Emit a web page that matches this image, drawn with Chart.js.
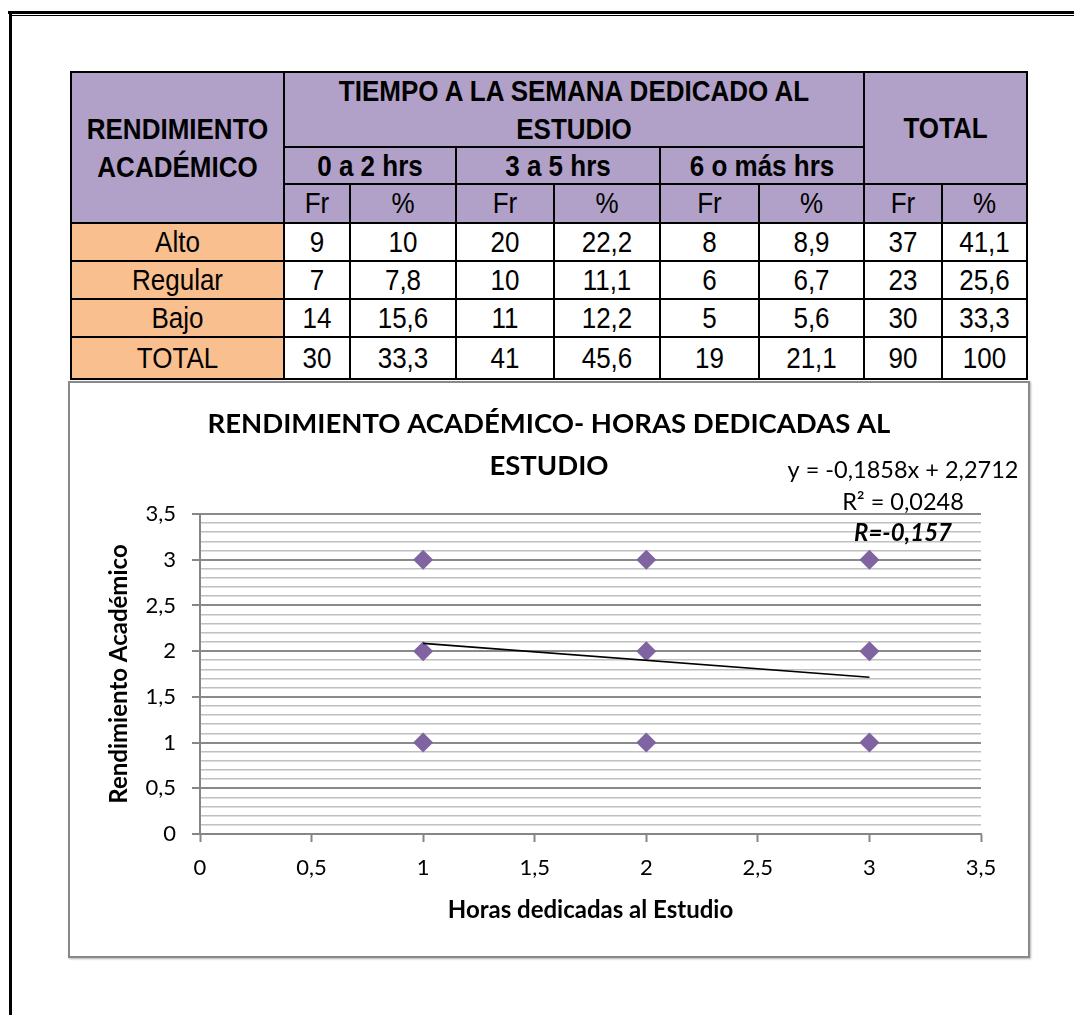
<!DOCTYPE html>
<html lang="es">
<head>
<meta charset="utf-8">
<title>Rendimiento académico - horas dedicadas al estudio</title>
<script src="https://cdn.jsdelivr.net/npm/chart.js@4.4.1/dist/chart.umd.min.js"></script>
<style>
  html, body { margin: 0; padding: 0; background: #fff; }
  body { width: 1074px; height: 1015px; position: relative; overflow: hidden;
         font-family: "Liberation Sans", Arial, sans-serif; }
  .frame-top  { position: absolute; left: 8px;  top: 11px; right: 0; height: 3px; background: #000; }
  .frame-top2 { position: absolute; left: 12px; top: 15px; right: 0; height: 1px; background: #000; }
  .frame-left { position: absolute; left: 9px;  top: 11px; bottom: 0; width: 3px; background: #000; }
  #tabla { position: absolute; left: 70px; top: 71px; width: 956px;
           border-collapse: collapse; table-layout: fixed; }
  #tabla td { border: 2px solid #000; padding: 0; text-align: center; vertical-align: middle;
              font-size: 26px; color: #000; white-space: nowrap; overflow: hidden; }
  #tabla td span { display: inline-block; transform: scaleY(1.12); }
  #tabla .h  { background: #B1A0C7; font-weight: bold; line-height: 34px; }
  #tabla .hs { background: #B1A0C7; }
  #tabla .lab { background: #FABF8F; }
  #tabla .v  { background: #fff; }
  #box { position: absolute; left: 68px; top: 381px; width: 958px; height: 573px;
         border: 2px solid #898989; background: #fff; box-shadow: 1px 1px 2px rgba(0,0,0,0.3); }
  #box canvas { display: block; }
</style>
</head>
<body>
<div class="frame-top"></div>
<div class="frame-top2"></div>
<div class="frame-left"></div>

<table id="tabla">
  <colgroup>
    <col style="width:213px"><col style="width:66px"><col style="width:106px">
    <col style="width:98px"><col style="width:106px"><col style="width:99px">
    <col style="width:105px"><col style="width:78px"><col style="width:85px">
  </colgroup>
  <tbody id="tbody"></tbody>
</table>

<div id="box"><div style="position:relative;width:958px;height:573px"><canvas id="grafico"></canvas></div></div>

<script>
// ---- Tabla de frecuencias ----
const niveles = ['Alto', 'Regular', 'Bajo', 'TOTAL'];
const grupos = ['0 a 2 hrs', '3 a 5 hrs', '6 o más hrs'];
const fr0a2   = [9, 7, 14, 30];
const pct0a2  = [10, 7.8, 15.6, 33.3];
const fr3a5   = [20, 10, 11, 41];
const pct3a5  = [22.2, 11.1, 12.2, 45.6];
const fr6mas  = [8, 6, 5, 19];
const pct6mas = [8.9, 6.7, 5.6, 21.1];
const frTotal  = [37, 23, 30, 90];
const pctTotal = [41.1, 25.6, 33.3, 100];

// ---- Datos del diagrama de dispersión ----
const horas       = [1, 1, 1, 2, 2, 2, 3, 3, 3];
const rendimiento = [3, 2, 1, 3, 2, 1, 3, 2, 1];
const pendiente  = -0.1858;
const intercepto = 2.2712;
const r2 = 0.0248;
const r  = -0.157;
const tendenciaX = [1, 3];
const ejeTicksX = [0, 0.5, 1, 1.5, 2, 2.5, 3, 3.5];

const fmt = n => String(n).replace('.', ',');

// construir la tabla
const tbody = document.getElementById('tbody');
const alturas = [75, 37, 39, 38, 38, 38, 42];
function fila(h) { const tr = document.createElement('tr'); tr.style.height = h + 'px'; tbody.appendChild(tr); return tr; }
function celda(tr, cls, html, cs, rs) {
  const td = document.createElement('td');
  td.className = cls;
  td.innerHTML = '<span>' + html + '</span>';
  if (cs) td.colSpan = cs;
  if (rs) td.rowSpan = rs;
  tr.appendChild(td);
}
let tr = fila(alturas[0]);
celda(tr, 'h', 'RENDIMIENTO<br>ACADÉMICO', 1, 3);
celda(tr, 'h', 'TIEMPO A LA SEMANA DEDICADO AL<br>ESTUDIO', 6);
celda(tr, 'h', 'TOTAL', 2, 2);
tr = fila(alturas[1]);
grupos.forEach(g => celda(tr, 'h', g, 2));
tr = fila(alturas[2]);
for (let i = 0; i < 4; i++) { celda(tr, 'hs', 'Fr'); celda(tr, 'hs', '%'); }
niveles.forEach((n, i) => {
  const f = fila(alturas[3 + i]);
  celda(f, 'lab', n);
  [[fr0a2, pct0a2], [fr3a5, pct3a5], [fr6mas, pct6mas], [frTotal, pctTotal]].forEach(([a, b]) => {
    celda(f, 'v', fmt(a[i]));
    celda(f, 'v', fmt(b[i]));
  });
});

// ---- Gráfico ----
const esMayor = v => Math.abs(v * 2 - Math.round(v * 2)) < 1e-6;
const fuente = 'Lato, "Open Sans", sans-serif';

const etiquetasTendencia = {
  id: 'etiquetasTendencia',
  afterDraw(chart) {
    const { ctx, chartArea } = chart;
    const cx = chartArea.right - 78;
    ctx.save();
    ctx.fillStyle = '#000';
    ctx.textAlign = 'center';
    ctx.textBaseline = 'middle';
    ctx.font = '23.5px ' + fuente;
    ctx.fillText('y = ' + fmt(pendiente) + 'x + ' + fmt(intercepto), cx, chartArea.top - 44);
    ctx.fillText('R² = ' + fmt(r2), cx, chartArea.top - 12);
    ctx.font = 'italic bold 24px ' + fuente;
    ctx.fillText('R=' + fmt(r), cx, chartArea.top + 19);
    ctx.restore();
  }
};

new Chart(document.getElementById('grafico'), {
  type: 'scatter',
  data: {
    datasets: [
      {
        label: 'Lineal',
        type: 'line',
        data: tendenciaX.map(x => ({ x, y: pendiente * x + intercepto })),
        borderColor: '#000',
        borderWidth: 1.6,
        pointRadius: 0,
        fill: false
      },
      {
        label: 'Rendimiento Académico',
        data: horas.map((h, i) => ({ x: h, y: rendimiento[i] })),
        pointStyle: 'rectRot',
        pointRadius: 10,
        pointHoverRadius: 10,
        backgroundColor: '#8064A2',
        borderWidth: 0
      }
    ]
  },
  options: {
    responsive: true,
    maintainAspectRatio: false,
    animation: false,
    layout: { padding: 0 },
    plugins: {
      legend: { display: false },
      tooltip: { enabled: false },
      title: {
        display: true,
        text: ['RENDIMIENTO ACADÉMICO- HORAS DEDICADAS AL', 'ESTUDIO'],
        color: '#000',
        font: { family: fuente, size: 27.5, weight: 'bold', lineHeight: 42 / 27.5 },
        padding: { top: 20, bottom: 27 }
      }
    },
    scales: {
      x: {
        type: 'linear',
        min: 0, max: 3.5,
        afterFit(s) { s.height = 122; },
        afterBuildTicks(s) { s.ticks = ejeTicksX.map(v => ({ value: v })); },
        ticks: { color: '#000', font: { family: fuente, size: 22 }, padding: 13, callback: v => fmt(v) },
        grid: { drawOnChartArea: false, drawTicks: true, tickLength: 8, tickColor: '#868686', tickWidth: 2 },
        border: { color: '#868686', width: 2 },
        title: { display: true, text: 'Horas dedicadas al Estudio', color: '#000',
                 font: { family: fuente, size: 24, weight: 'bold' }, padding: { top: 0, bottom: 31 } }
      },
      y: {
        type: 'linear',
        min: 0, max: 3.5,
        afterFit(s) { s.width = 130; },
        ticks: { stepSize: 0.1, autoSkip: false, color: '#000', padding: 16,
                 font: { family: fuente, size: 22 },
                 callback: v => esMayor(v) ? fmt(Math.round(v * 2) / 2) : '' },
        grid: {
          color: c => esMayor(c.tick.value) ? '#8a8a8a' : '#c0c0c0',
          lineWidth: c => esMayor(c.tick.value) ? 2 : 1.6,
          tickLength: 8,
          tickColor: c => esMayor(c.tick.value) ? '#868686' : 'rgba(0,0,0,0)',
          tickWidth: 2
        },
        border: { color: '#868686', width: 2 },
        title: { display: true, text: 'Rendimiento Académico', color: '#000',
                 font: { family: fuente, size: 24, weight: 'bold' }, padding: { top: 35, bottom: 0 } }
      },
      margen: {
        type: 'linear',
        position: 'right',
        afterFit(s) { s.width = 47; },
        ticks: { display: false },
        grid: { display: false, drawTicks: false },
        border: { display: false }
      }
    }
  },
  plugins: [etiquetasTendencia]
});
</script>
</body>
</html>
